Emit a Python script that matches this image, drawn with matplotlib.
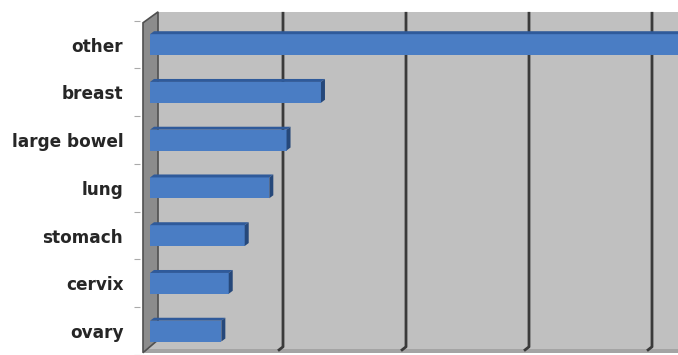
import matplotlib.pyplot as plt
from matplotlib.patches import Polygon, Rectangle

# cancer sites, values (one gridline = 10)
sites = ["other", "breast", "large bowel", "lung", "stomach", "cervix", "ovary"]
values = [45, 13.9, 11.1, 9.7, 7.7, 6.4, 5.8]
gridVals = [0, 10, 20, 30, 40]

W, H = 678, 355
s = 12.3      # pixels per unit along x
rowPx = 48.2  # pixels per category
y0 = 45       # pixel row of first category centre

fig = plt.figure(figsize=(W / 100, H / 100), dpi=100)
L = 140
ax = fig.add_axes([L / W, 0, (W - L) / W, 1])
ax.set_xlim((L - 150) / s, (W - 150) / s)
ax.set_ylim((H - y0) / rowPx, (0 - y0) / rowPx)

def py(p):
    return (p - y0) / rowPx

def px(p):
    return (p - 150) / s

# back wall
ax.add_patch(Rectangle((px(158), py(12)), px(W + 5) - px(158), py(356) - py(12),
                       facecolor="#c0c0c0", edgecolor="none", zorder=0))
ax.add_patch(Rectangle((px(144), py(340)), px(160) - px(144), py(356) - py(340),
                       facecolor="#c0c0c0", edgecolor="none", zorder=0))
# floor edge
ax.add_patch(Rectangle((px(145), py(352.5)), px(W + 5) - px(145), py(356) - py(352.5),
                       facecolor="#a4a4a4", edgecolor="none", zorder=0.5))
# left wall
wall = Polygon([(px(143), py(23)), (px(158), py(12)), (px(158), py(343)),
                (px(143), py(356))], closed=True, facecolor="#8c8c8c",
               edgecolor="#505050", linewidth=1.2, zorder=1)
ax.add_patch(wall)

# gridlines on the back wall, with a small foot on the floor
depth = px(160)
for g in gridVals[1:]:
    ax.plot([g + depth - 5 / s, g + depth, g + depth], [py(354), py(350), py(12)],
            color="#3a3a3a", linewidth=2, zorder=1.5, solid_capstyle="butt")

ypos = list(range(len(sites)))
bh = 21 / rowPx
ax.barh(ypos, values, height=bh, left=0, color="#4a7dc4", edgecolor="none", zorder=3)

# 3D top face and end face of each bar
dx, dy = 4 / s, 3 / rowPx
for y, v in zip(ypos, values):
    top = Polygon([(0, y - bh / 2), (v, y - bh / 2), (v + dx, y - bh / 2 - dy),
                   (dx, y - bh / 2 - dy)], closed=True, facecolor="#2f5a9a",
                  edgecolor="none", zorder=3)
    side = Polygon([(v, y - bh / 2), (v, y + bh / 2), (v + dx, y + bh / 2 - dy),
                    (v + dx, y - bh / 2 - dy)], closed=True, facecolor="#26487a",
                   edgecolor="none", zorder=3)
    ax.add_patch(top)
    ax.add_patch(side)

ax.set_yticks(ypos)
ax.set_yticklabels(sites, fontsize=12.2, fontweight="bold", color="#262626")
ax.tick_params(axis="y", which="major", length=0, pad=12)
ax.set_yticks([y + 0.5 for y in range(-1, len(sites))], minor=True)
ax.tick_params(axis="y", which="minor", length=4, width=0.8, color="#aaaaaa")
ax.set_xticks([])
for sp in ax.spines.values():
    sp.set_visible(False)

fig.savefig("out.png", dpi=100)
